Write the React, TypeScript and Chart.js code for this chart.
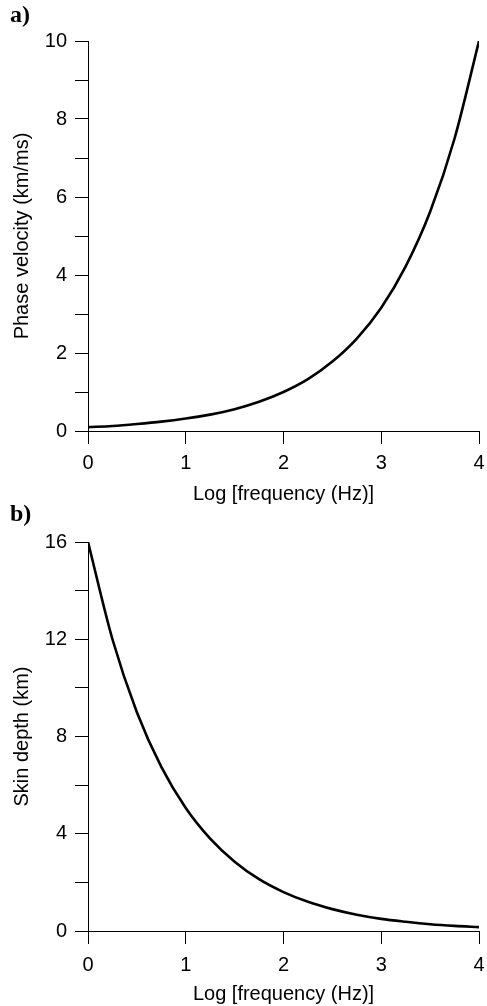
import React, { useEffect, useRef } from "react";
import { Chart, registerables } from "chart.js";

Chart.register(...registerables);

const logFrequency = [0, 0.25, 0.5, 0.75, 1, 1.25, 1.5, 1.75, 2, 2.25, 2.5, 2.75, 3, 3.25, 3.5, 3.75, 4];
const phaseVelocity = [0.1, 0.13, 0.18, 0.24, 0.32, 0.42, 0.56, 0.75, 1.0, 1.33, 1.78, 2.37, 3.16, 4.22, 5.62, 7.5, 10];
const skinDepth = [16, 12.0, 9.0, 6.75, 5.06, 3.8, 2.85, 2.13, 1.6, 1.2, 0.9, 0.67, 0.5, 0.38, 0.28, 0.21, 0.16];

const xTitle = "Log [frequency (Hz)]";
const yTitleA = "Phase velocity (km/ms)";
const yTitleB = "Skin depth (km)";

const FONT = "'Liberation Sans', Arial, Helvetica, sans-serif";

function makeConfig(
  ys: number[],
  yMax: number,
  yStep: number,
  labelEvery: number,
  yTitle: string,
  topPad: number,
  xHeight: number,
  xTitlePadBottom: number,
  xTickPad: number
): any {
  return {
    type: "line",
    data: {
      datasets: [
        {
          data: logFrequency.map((x, i) => ({ x, y: ys[i] })),
          borderColor: "#000",
          borderWidth: 2.6,
          pointRadius: 0,
          cubicInterpolationMode: "monotone",
          fill: false,
        },
      ],
    },
    options: {
      animation: false,
      responsive: false,
      devicePixelRatio: 1,
      layout: { padding: { top: topPad, right: 8, left: 0, bottom: 0 } },
      plugins: { legend: { display: false }, tooltip: { enabled: false } },
      scales: {
        x: {
          type: "linear",
          min: 0,
          max: 4,
          afterFit: (s: any) => {
            s.height = xHeight;
            s.paddingLeft = 0;
            s.paddingRight = 0;
          },
          ticks: {
            stepSize: 1,
            color: "#000",
            padding: xTickPad,
            font: { family: FONT, size: 20 },
            maxRotation: 0,
          },
          grid: {
            drawOnChartArea: false,
            drawTicks: true,
            tickLength: 13,
            tickColor: "#000",
            tickWidth: 1,
          },
          border: { display: true, color: "#000", width: 1 },
          title: {
            display: true,
            text: xTitle,
            color: "#000",
            font: { family: FONT, size: 20 },
            padding: { top: 0, bottom: xTitlePadBottom },
          },
        },
        y: {
          type: "linear",
          min: 0,
          max: yMax,
          afterFit: (s: any) => {
            s.width = 88;
            s.paddingTop = 0;
            s.paddingBottom = 0;
          },
          ticks: {
            stepSize: yStep,
            color: "#000",
            padding: 8,
            font: { family: FONT, size: 20 },
            callback: (v: any) => (Math.round(v) % labelEvery === 0 ? String(v) : ""),
          },
          grid: {
            drawOnChartArea: false,
            drawTicks: true,
            tickLength: 13,
            tickColor: "#000",
            tickWidth: 1,
          },
          border: { display: true, color: "#000", width: 1 },
          title: {
            display: true,
            text: yTitle,
            color: "#000",
            font: { family: FONT, size: 20 },
            padding: { top: 10, bottom: 0 },
          },
        },
      },
    },
  };
}

export default function App() {
  const refA = useRef<HTMLCanvasElement>(null);
  const refB = useRef<HTMLCanvasElement>(null);

  useEffect(() => {
    document.body.style.margin = "0";
    const a = new Chart(refA.current!, makeConfig(phaseVelocity, 10, 1, 2, yTitleA, 41, 79, 4, 7));
    const b = new Chart(refB.current!, makeConfig(skinDepth, 16, 2, 4, yTitleB, 32, 75, 0, 9));
    return () => {
      a.destroy();
      b.destroy();
    };
  }, []);

  const panelLabel: React.CSSProperties = {
    position: "absolute",
    left: 10,
    fontFamily: "'Liberation Serif', 'Times New Roman', serif",
    fontWeight: "bold",
    fontSize: 24,
    lineHeight: "24px",
    color: "#000",
  };

  return (
    <div style={{ position: "relative", width: 487, height: 1006, background: "#fff" }}>
      <canvas ref={refA} width={487} height={510} style={{ position: "absolute", left: 0, top: 0 }} />
      <canvas ref={refB} width={487} height={496} style={{ position: "absolute", left: 0, top: 510 }} />
      <div style={{ ...panelLabel, top: 2 }}>a)</div>
      <div style={{ ...panelLabel, top: 501 }}>b)</div>
    </div>
  );
}
